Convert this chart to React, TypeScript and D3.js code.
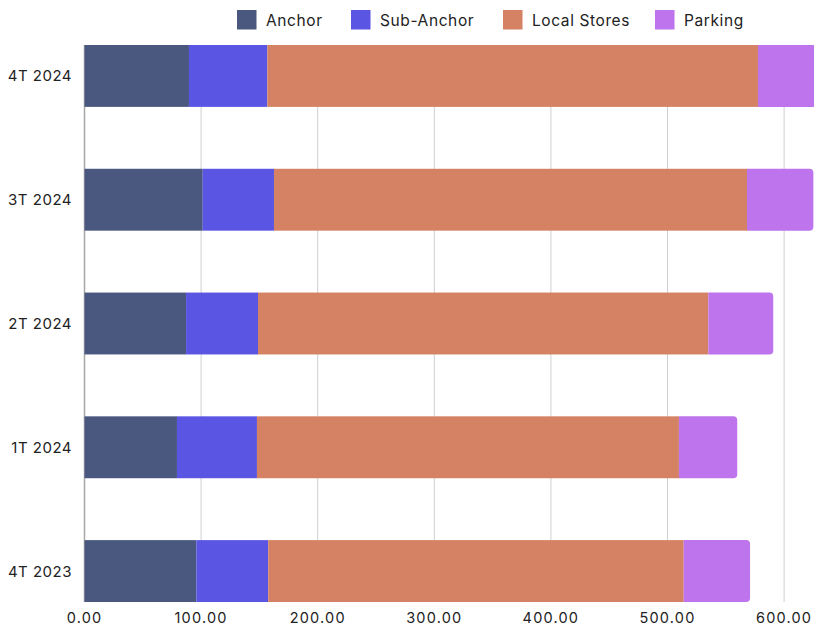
import React from "react";
import * as d3 from "d3";

const categories = ["4T 2023", "1T 2024", "2T 2024", "3T 2024", "4T 2024"];
const seriesNames = ["Anchor", "Sub-Anchor", "Local Stores", "Parking"];
const anchor = [95.9, 79.3, 87.1, 101.4, 89.6];
const subAnchor = [61.7, 68.6, 61.7, 61.1, 67.2];
const localStores = [356.3, 361.9, 386.2, 405.7, 420.8];
const parking = [56.9, 50.0, 55.7, 56.9, 58.0];
const xTicks = [0, 100, 200, 300, 400, 500, 600];
const colors = ["#4a5880", "#5a55e3", "#d58264", "#bd74ec"];

const W = 814;
const H = 628;
const FONT = "Inter, 'Noto Sans', sans-serif";

function roundedRight(x0: number, x1: number, y: number, h: number, r: number) {
  const rr = Math.min(r, (x1 - x0) / 2, h / 2);
  return `M${x0},${y}H${x1 - rr}Q${x1},${y} ${x1},${y + rr}V${y + h - rr}Q${x1},${y + h} ${x1 - rr},${y + h}H${x0}Z`;
}

export default function App() {
  const rows = categories.map((c, i) => ({
    cat: c,
    Anchor: anchor[i],
    "Sub-Anchor": subAnchor[i],
    "Local Stores": localStores[i],
    Parking: parking[i],
  }));
  const stacked = d3.stack<any>().keys(seriesNames)(rows);

  const x = d3.scaleLinear().domain([0, 600]).range([84.5, 784.1]);
  const y = d3
    .scaleBand<string>()
    .domain([...categories].reverse())
    .range([45, 602])
    .paddingInner(0.5)
    .paddingOuter(0);

  const legendX = [237, 351, 503, 655];

  return (
    <svg
      width={W}
      height={H}
      style={{ position: "absolute", left: 0, top: 0, background: "#fff" }}
      fontFamily={FONT}
    >
      {/* vertical grid */}
      {xTicks.slice(1).map((t) => (
        <line key={t} x1={x(t)} x2={x(t)} y1={45} y2={602} stroke="#cfcfcf" strokeWidth={1} />
      ))}
      <line x1={x(0)} x2={x(0)} y1={45} y2={602} stroke="#a8a8a8" strokeWidth={1.5} />

      {/* stacked bars */}
      {stacked.map((layer, si) =>
        layer.map((d, ci) => {
          const cat = categories[ci];
          const y0 = y(cat)!;
          const h = y.bandwidth();
          const x0 = x(d[0]);
          const x1 = x(d[1]);
          if (si === seriesNames.length - 1) {
            return <path key={`${si}-${ci}`} d={roundedRight(x0, x1, y0, h, 4)} fill={colors[si]} />;
          }
          return <rect key={`${si}-${ci}`} x={x0} y={y0} width={x1 - x0} height={h} fill={colors[si]} />;
        })
      )}

      {/* category labels */}
      {categories.map((c) => (
        <text
          key={c}
          x={72}
          y={y(c)! + y.bandwidth() / 2}
          textAnchor="end"
          dominantBaseline="central"
          fontSize={15}
          letterSpacing={0.5}
          fill="#222"
        >
          {c}
        </text>
      ))}

      {/* x tick labels */}
      {xTicks.map((t) => (
        <text
          key={t}
          x={x(t)}
          y={617}
          textAnchor="middle"
          dominantBaseline="central"
          fontSize={14.5}
          letterSpacing={1.2}
          fill="#222"
        >
          {d3.format(".2f")(t)}
        </text>
      ))}

      {/* legend */}
      {seriesNames.map((s, i) => (
        <g key={s} transform={`translate(${legendX[i]},10)`}>
          <rect width={19.5} height={19.5} fill={colors[i]} />
          <text x={29} y={10} dominantBaseline="central" fontSize={15.5} letterSpacing={0.6} fill="#222">
            {s}
          </text>
        </g>
      ))}
    </svg>
  );
}
